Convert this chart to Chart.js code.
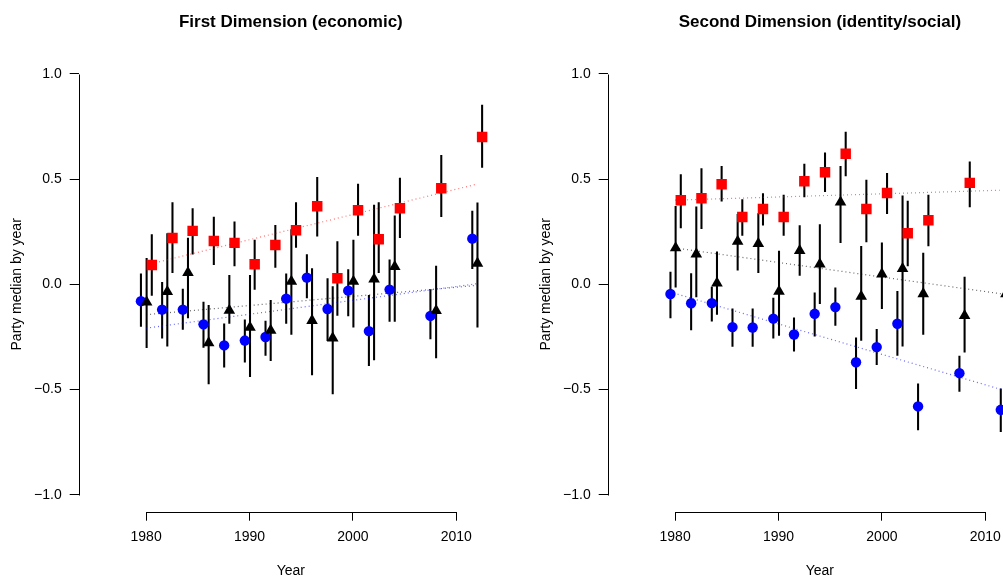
<!DOCTYPE html>
<html>
<head>
<meta charset="utf-8">
<script src="https://cdn.jsdelivr.net/npm/chart.js@4.4.1/dist/chart.umd.min.js"></script>
<style>
html, body { margin: 0; padding: 0; background: #fff; }
#wrap { position: relative; width: 1003px; height: 580px; overflow: hidden; }
canvas { position: absolute; top: 0; }
</style>
</head>
<body>
<div id="wrap">
  <canvas id="econ" width="529" height="580" style="left:0"></canvas>
  <canvas id="social" width="529" height="580" style="left:529px"></canvas>
</div>
<script>
// axis ticks
var xTicks = [1980, 1990, 2000, 2010];
var yTicks = [-1, -0.5, 0, 0.5, 1];

// First dimension (economic)
var econBlueYear = [1979.5, 1981.55, 1983.55, 1985.55, 1987.55, 1989.55, 1991.55, 1993.55, 1995.55, 1997.55, 1999.55, 2001.55, 2003.55, 2007.5, 2011.55];
var econBlueMed = [-0.08, -0.12, -0.12, -0.19, -0.29, -0.267, -0.25, -0.068, 0.032, -0.117, -0.03, -0.222, -0.025, -0.15, 0.217];
var econBlueLo = [-0.2, -0.256, -0.214, -0.3, -0.394, -0.37, -0.338, -0.186, -0.065, -0.267, -0.15, -0.386, -0.176, -0.259, 0.075];
var econBlueHi = [0.05, 0.01, -0.022, -0.084, -0.187, -0.168, -0.175, 0.05, 0.141, 0.027, 0.07, -0.052, 0.117, -0.025, 0.348];

var econBlackYear = [1980.05, 1982.05, 1984.05, 1986.05, 1988.05, 1990.05, 1992.05, 1994.05, 1996.05, 1998.05, 2000.05, 2002.05, 2004.05, 2008.05, 2012.05];
var econBlackMed = [-0.085, -0.035, 0.055, -0.278, -0.124, -0.205, -0.219, 0.014, -0.172, -0.255, 0.014, 0.025, 0.084, -0.125, 0.1];
var econBlackLo = [-0.301, -0.294, -0.16, -0.473, -0.186, -0.438, -0.362, -0.238, -0.43, -0.52, -0.203, -0.359, -0.176, -0.35, -0.203];
var econBlackHi = [0.124, 0.241, 0.22, -0.1, 0.043, 0.043, -0.076, 0.26, 0.075, -0.01, 0.21, 0.376, 0.325, 0.087, 0.387];

var econRedYear = [1980.55, 1982.55, 1984.5, 1986.55, 1988.55, 1990.5, 1992.5, 1994.5, 1996.55, 1998.5, 2000.5, 2002.5, 2004.55, 2008.55, 2012.5];
var econRedMed = [0.092, 0.22, 0.254, 0.206, 0.197, 0.095, 0.187, 0.257, 0.371, 0.029, 0.352, 0.214, 0.362, 0.457, 0.7];
var econRedLo = [-0.052, 0.056, 0.143, 0.094, 0.087, -0.024, 0.08, 0.175, 0.229, -0.148, 0.233, 0.056, 0.222, 0.321, 0.556];
var econRedHi = [0.237, 0.389, 0.36, 0.32, 0.297, 0.21, 0.28, 0.389, 0.508, 0.203, 0.476, 0.389, 0.505, 0.613, 0.852];

// fitted trends (end points)
var econBlueFitX = [1980, 2012], econBlueFitY = [-0.208, 0.003];
var econBlackFitX = [1980, 2012], econBlackFitY = [-0.144, -0.005];
var econRedFitX = [1980.5, 2012], econRedFitY = [0.098, 0.476];

// Second dimension (identity/social)
var socBlueYear = [1979.55, 1981.55, 1983.55, 1985.55, 1987.5, 1989.5, 1991.5, 1993.5, 1995.5, 1997.5, 1999.5, 2001.5, 2003.5, 2007.5, 2011.5];
var socBlueMed = [-0.046, -0.09, -0.089, -0.203, -0.205, -0.163, -0.238, -0.14, -0.108, -0.37, -0.298, -0.187, -0.58, -0.422, -0.596];
var socBlueLo = [-0.159, -0.216, -0.175, -0.295, -0.295, -0.256, -0.317, -0.246, -0.195, -0.496, -0.382, -0.338, -0.691, -0.509, -0.7];
var socBlueHi = [0.058, 0.051, -0.013, -0.116, -0.116, -0.065, -0.159, -0.04, -0.016, -0.254, -0.214, -0.033, -0.473, -0.341, -0.496];

var socBlackYear = [1980.05, 1982.05, 1984.05, 1986.05, 1988.05, 1990.05, 1992.05, 1994, 1996, 1998, 2000, 2002, 2004, 2008, 2012];
var socBlackMed = [0.173, 0.144, 0.006, 0.204, 0.193, -0.034, 0.16, 0.096, 0.39, -0.057, 0.049, 0.074, -0.045, -0.149, -0.045];
var socBlackLo = [-0.013, -0.06, -0.143, 0.067, 0.056, -0.243, 0.043, -0.092, 0.198, -0.266, -0.116, -0.294, -0.238, -0.322, -0.22];
var socBlackHi = [0.371, 0.368, 0.154, 0.333, 0.336, 0.158, 0.279, 0.284, 0.561, 0.181, 0.197, 0.42, 0.149, 0.035, 0.15];

var socRedYear = [1980.55, 1982.55, 1984.5, 1986.5, 1988.5, 1990.5, 1992.5, 1994.5, 1996.5, 1998.5, 2000.5, 2002.5, 2004.5, 2008.5];
var socRedMed = [0.4, 0.409, 0.476, 0.32, 0.358, 0.32, 0.49, 0.533, 0.62, 0.358, 0.434, 0.243, 0.305, 0.482];
var socRedLo = [0.268, 0.265, 0.395, 0.233, 0.281, 0.233, 0.415, 0.44, 0.515, 0.201, 0.336, 0.087, 0.182, 0.368];
var socRedHi = [0.522, 0.55, 0.561, 0.403, 0.431, 0.424, 0.571, 0.625, 0.723, 0.495, 0.527, 0.396, 0.424, 0.582];

var socBlueFitX = [1979.5, 2012], socBlueFitY = [-0.036, -0.506];
var socBlackFitX = [1980, 2012], socBlackFitY = [0.173, -0.048];
var socRedFitX = [1980, 2012], socRedFitY = [0.4, 0.448];

var FONT = "'Liberation Sans', Arial, Helvetica, sans-serif";
Chart.defaults.font.family = FONT;
Chart.defaults.font.size = 14;
Chart.defaults.color = '#000';

function pts(xs, ys) {
  return xs.map(function (x, i) { return { x: x, y: ys[i] }; });
}
function bars(xs, lo, hi) {
  return xs.map(function (x, i) { return { x: x, y: [lo[i], hi[i]] }; });
}

// R style axes: line only from first to last tick, plus the main title
var rAxes = {
  id: 'rAxes',
  afterDraw: function (chart, args, opts) {
    var ctx = chart.ctx, a = chart.chartArea;
    var sx = chart.scales.x, sy = chart.scales.y;
    var by = Math.round(a.bottom) + 0.5, lx = Math.round(a.left) + 0.5;
    ctx.save();
    ctx.strokeStyle = '#000';
    ctx.lineWidth = 1;
    ctx.beginPath();
    ctx.moveTo(Math.round(sx.getPixelForValue(xTicks[0])) + 0.5, by);
    ctx.lineTo(Math.round(sx.getPixelForValue(xTicks[xTicks.length - 1])) + 0.5, by);
    ctx.moveTo(lx, Math.round(sy.getPixelForValue(yTicks[0])) + 0.5);
    ctx.lineTo(lx, Math.round(sy.getPixelForValue(yTicks[yTicks.length - 1])) + 0.5);
    ctx.stroke();
    ctx.font = 'bold 17px ' + FONT;
    ctx.textAlign = 'center';
    ctx.textBaseline = 'middle';
    ctx.fillStyle = '#000';
    ctx.fillText(opts.text, (a.left + a.right) / 2, 22);
    ctx.restore();
  }
};

function errBars(xs, lo, hi) {
  return { type: 'bar', data: bars(xs, lo, hi), backgroundColor: '#000', borderWidth: 0,
           barThickness: 1.4, grouped: false, order: 2 };
}
function marks(xs, ys, style, r, col) {
  return { type: 'scatter', data: pts(xs, ys), pointStyle: style, pointRadius: r,
           backgroundColor: col, borderWidth: 0, order: 0 };
}
function fit(xs, ys, col) {
  return { type: 'line', data: pts(xs, ys), borderColor: col, borderWidth: 1.2,
           borderDash: [1, 3], pointRadius: 0, fill: false, order: 1 };
}

function makeChart(id, title, datasets) {
  return new Chart(document.getElementById(id), {
    type: 'scatter',
    data: { datasets: datasets },
    options: {
      responsive: false,
      animation: false,
      events: [],
      layout: { padding: { top: 57, right: 26, left: 0, bottom: 0 } },
      plugins: { legend: { display: false }, tooltip: { enabled: false }, rAxes: { text: title } },
      scales: {
        x: {
          type: 'linear', min: 1973.48, max: 2014.52, offset: false,
          afterBuildTicks: function (s) { s.ticks = xTicks.map(function (v) { return { value: v }; }); },
          afterFit: function (s) { s.height = 68.3; },
          grid: { offset: false, drawOnChartArea: false, drawTicks: true, tickLength: 9, color: '#000' },
          border: { display: false },
          ticks: { padding: 8, maxRotation: 0, autoSkip: false, color: '#000',
                   callback: function (v) { return String(v); } },
          title: { display: true, text: 'Year', padding: { top: 0, bottom: 0 } }
        },
        y: {
          type: 'linear', min: -1.08, max: 1.08, offset: false, beginAtZero: false,
          afterBuildTicks: function (s) { s.ticks = yTicks.map(function (v) { return { value: v }; }); },
          afterFit: function (s) { s.width = 78.7; },
          grid: { offset: false, drawOnChartArea: false, drawTicks: true, tickLength: 9, color: '#000' },
          border: { display: false },
          ticks: { padding: 8, autoSkip: false, color: '#000',
                   callback: function (v) { return (v < 0 ? '\u2212' : '') + Math.abs(v).toFixed(1); } },
          title: { display: true, text: 'Party median by year', padding: { top: 9, bottom: 0 } }
        }
      }
    },
    plugins: [rAxes]
  });
}

makeChart('econ', 'First Dimension (economic)', [
  marks(econRedYear, econRedMed, 'rect', 7.4, '#ff0000'),
  marks(econBlackYear, econBlackMed, 'triangle', 6.7, '#000000'),
  marks(econBlueYear, econBlueMed, 'circle', 5.2, '#0000ff'),
  fit(econRedFitX, econRedFitY, 'rgba(255,0,0,0.55)'),
  fit(econBlackFitX, econBlackFitY, 'rgba(0,0,0,0.6)'),
  fit(econBlueFitX, econBlueFitY, 'rgba(0,0,255,0.6)'),
  errBars(econRedYear, econRedLo, econRedHi),
  errBars(econBlackYear, econBlackLo, econBlackHi),
  errBars(econBlueYear, econBlueLo, econBlueHi)
]);

makeChart('social', 'Second Dimension (identity/social)', [
  marks(socRedYear, socRedMed, 'rect', 7.4, '#ff0000'),
  marks(socBlackYear, socBlackMed, 'triangle', 6.7, '#000000'),
  marks(socBlueYear, socBlueMed, 'circle', 5.2, '#0000ff'),
  fit(socRedFitX, socRedFitY, 'rgba(255,0,0,0.55)'),
  fit(socBlackFitX, socBlackFitY, 'rgba(0,0,0,0.6)'),
  fit(socBlueFitX, socBlueFitY, 'rgba(0,0,255,0.6)'),
  errBars(socRedYear, socRedLo, socRedHi),
  errBars(socBlackYear, socBlackLo, socBlackHi),
  errBars(socBlueYear, socBlueLo, socBlueHi)
]);
</script>
</body>
</html>
